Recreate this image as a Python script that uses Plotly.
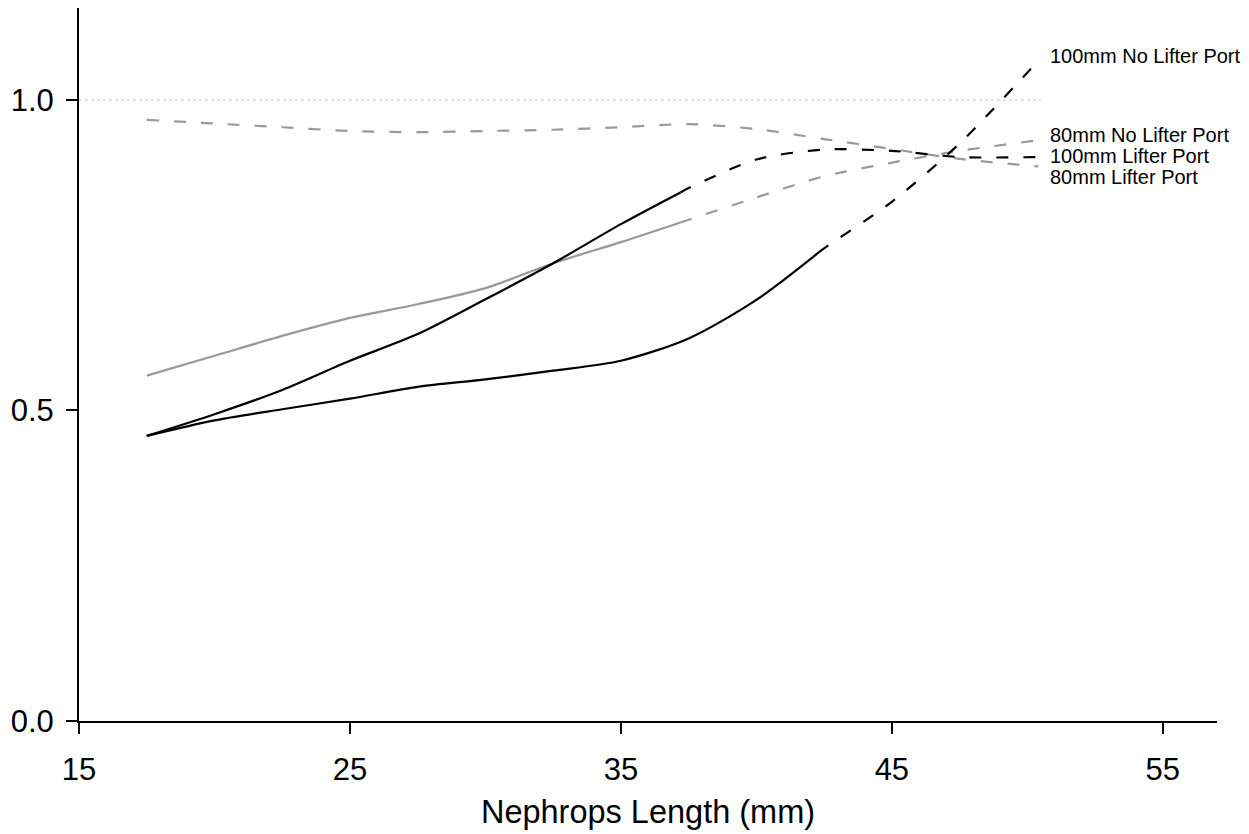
import plotly.graph_objects as go

# ---- data ----
length_mm = [17.5, 20, 22.5, 25, 27.5, 30, 32.5, 35, 37.5, 40, 42.5, 45, 47.5, 50.4]

mm100_no_lifter = [0.459, 0.484, 0.502, 0.519, 0.538, 0.550, 0.564, 0.580, 0.616, 0.678, 0.761, 0.836, 0.930, 1.063]
mm100_lifter    = [0.459, 0.494, 0.533, 0.580, 0.623, 0.679, 0.737, 0.800, 0.858, 0.904, 0.920, 0.918, 0.908, 0.908]
mm80_no_lifter  = [0.556, 0.588, 0.620, 0.649, 0.671, 0.697, 0.737, 0.771, 0.807, 0.843, 0.877, 0.899, 0.918, 0.935]
mm80_lifter     = [0.968, 0.962, 0.956, 0.950, 0.948, 0.950, 0.952, 0.956, 0.961, 0.953, 0.937, 0.921, 0.905, 0.893]

# observed-data limit for each curve (solid up to here, extrapolated dashed beyond)
solid_until_100_no_lifter = 42.3
solid_until_100_lifter = 37.2
solid_until_80_no_lifter = 37.2
solid_until_80_lifter = 17.5

series_names = ["100mm No Lifter Port", "80mm No Lifter Port", "100mm Lifter Port", "80mm Lifter Port"]
label_y = [1.071, 0.944, 0.909, 0.876]

x_ticks = [15, 25, 35, 45, 55]
y_ticks = [0.0, 0.5, 1.0]
reference_level = 1.0
reference_x = [15, 50.5]

BLACK = "#000000"
GRAY = "#999999"
FONT = "Arial, 'Liberation Sans', sans-serif"
DASH = "12px,15px"


def interp(x, xs, ys):
    for i in range(len(xs) - 1):
        if xs[i] <= x <= xs[i + 1]:
            t = (x - xs[i]) / (xs[i + 1] - xs[i])
            return ys[i] + t * (ys[i + 1] - ys[i])
    return ys[-1]


def split(xs, ys, cut):
    sx = [x for x in xs if x < cut] + [cut]
    sy = [y for x, y in zip(xs, ys) if x < cut] + [interp(cut, xs, ys)]
    dx = [cut] + [x for x in xs if x > cut]
    dy = [interp(cut, xs, ys)] + [y for x, y in zip(xs, ys) if x > cut]
    return sx, sy, dx, dy


fig = go.Figure()

# reference line at 1.0
fig.add_trace(go.Scatter(x=reference_x, y=[reference_level] * 2, mode="lines",
                         line=dict(color="#c4c4c4", width=1, dash="3px,3px"),
                         showlegend=False, hoverinfo="skip"))

curves = [
    (mm80_lifter, solid_until_80_lifter, GRAY),
    (mm80_no_lifter, solid_until_80_no_lifter, GRAY),
    (mm100_no_lifter, solid_until_100_no_lifter, BLACK),
    (mm100_lifter, solid_until_100_lifter, BLACK),
]

for ys, cut, col in curves:
    sx, sy, dx, dy = split(length_mm, ys, cut)
    if len(sx) > 1 and sx[-1] > sx[0]:
        fig.add_trace(go.Scatter(x=sx, y=sy, mode="lines",
                                 line=dict(color=col, width=2.2, shape="spline", smoothing=0.8),
                                 showlegend=False))
    fig.add_trace(go.Scatter(x=dx, y=dy, mode="lines",
                             line=dict(color=col, width=2.2, dash=DASH, shape="spline", smoothing=0.8),
                             showlegend=False))

for name, yv in zip(series_names, label_y):
    fig.add_annotation(x=50.78, y=yv, text=name, showarrow=False,
                       xanchor="left", yanchor="middle",
                       font=dict(family=FONT, size=20, color="#000000"))

fig.update_layout(
    width=1241, height=826,
    paper_bgcolor="white", plot_bgcolor="white",
    margin=dict(l=71, r=32, t=0, b=113, pad=0),
    font=dict(family=FONT, color="#000000"),
    showlegend=False,
)

fig.update_xaxes(
    range=[15, 57], tickvals=x_ticks, ticktext=[str(v) for v in x_ticks],
    showgrid=False, zeroline=False, showline=True, linecolor="#000000", linewidth=2,
    ticks="outside", ticklen=11, tickwidth=2, tickcolor="#000000",
    tickfont=dict(family=FONT, size=31), ticklabelstandoff=9,
    title=dict(text="Nephrops Length (mm)", font=dict(family=FONT, size=32.5), standoff=14),
)
fig.update_yaxes(
    range=[0, 1.148], tickvals=y_ticks, ticktext=[f"{v:.1f}" for v in y_ticks],
    showgrid=False, zeroline=False, showline=True, linecolor="#000000", linewidth=2,
    ticks="outside", ticklen=11, tickwidth=2, tickcolor="#000000",
    tickfont=dict(family=FONT, size=31), ticklabelstandoff=6,
)

fig.write_html("out.html")
